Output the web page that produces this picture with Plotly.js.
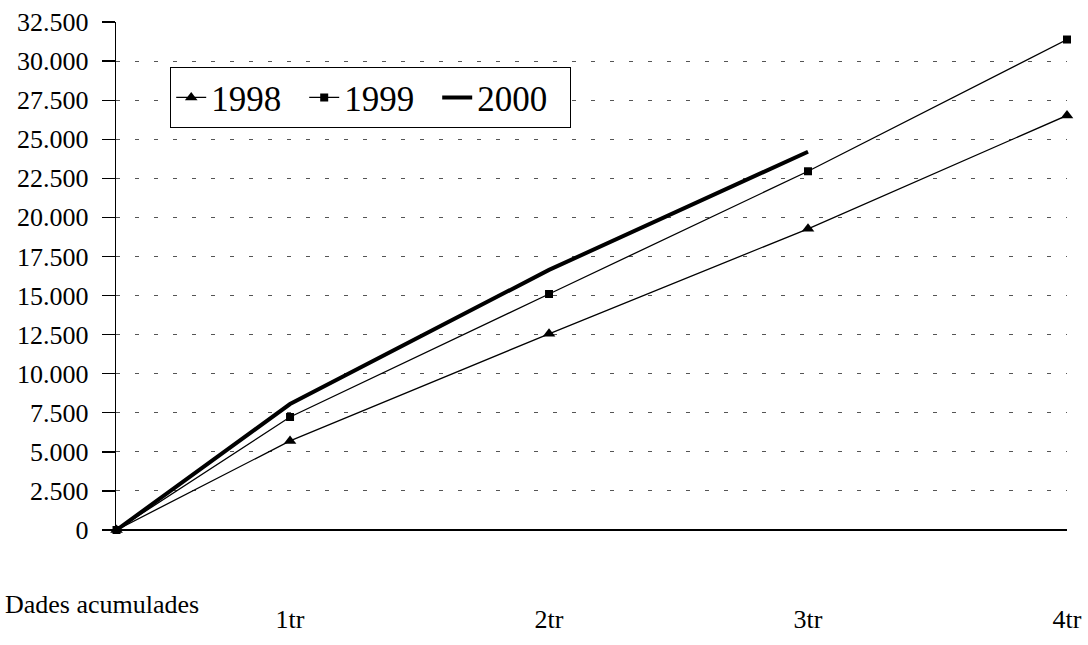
<!DOCTYPE html>
<html>
<head>
<meta charset="utf-8">
<script src="https://cdn.plot.ly/plotly-3.0.1.min.js"></script>
<style>html,body{margin:0;padding:0;background:#fff;}#chart{width:1088px;height:645px;}</style>
</head>
<body>
<div id="chart"></div>
<script>
// Data (cumulative values per quarter)
const quarterPositions = [0.33, 1, 2, 3, 4];
const quarterTickValues = [1, 2, 3, 4];
const quarterTickLabels = ["1tr", "2tr", "3tr", "4tr"];
const values1998 = [0, 5700, 12550, 19270, 26520];
const values1999 = [0, 7230, 15100, 22950, 31380];
const values2000 = [0, 8060, 16640, 24200];
const yTickValues = [0, 2500, 5000, 7500, 10000, 12500, 15000, 17500, 20000, 22500, 25000, 27500, 30000, 32500];

const serif = "Liberation Serif";

const traces = [
  {
    x: quarterPositions, y: values1998, name: "1998", type: "scatter", mode: "lines+markers",
    line: {color: "#000", width: 1.3},
    marker: {symbol: "triangle-up", size: 11, color: "#000"},
    cliponaxis: false
  },
  {
    x: quarterPositions, y: values1999, name: "1999", type: "scatter", mode: "lines+markers",
    line: {color: "#000", width: 1.3},
    marker: {symbol: "square", size: 8, color: "#000"},
    cliponaxis: false
  },
  {
    x: quarterPositions.slice(0, values2000.length), y: values2000, name: "2000", type: "scatter", mode: "lines",
    line: {color: "#000", width: 4},
    cliponaxis: false
  }
];

const layout = {
  width: 1088, height: 645,
  margin: {l: 116, r: 21, t: 22, b: 115},
  paper_bgcolor: "#fff", plot_bgcolor: "#fff",
  separators: ",.",
  font: {family: serif, color: "#000", size: 26},
  showlegend: true,
  legend: {
    orientation: "h", x: 0.057, y: 0.911, xanchor: "left", yanchor: "top",
    bordercolor: "#000", borderwidth: 1, bgcolor: "#fff",
    font: {family: serif, size: 35, color: "#000"},
    itemwidth: 30, entrywidth: 88, entrywidthmode: "pixels"
  },
  xaxis: {
    range: [0.328, 4], showgrid: false, zeroline: false,
    showline: false,
    tickmode: "array", tickvals: quarterTickValues, ticktext: quarterTickLabels,
    ticks: "outside", ticklen: 66, tickcolor: "rgba(0,0,0,0)",
    tickfont: {family: serif, size: 26, color: "#000"},
    fixedrange: true
  },
  yaxis: {
    range: [0, 32500], tickmode: "array", tickvals: yTickValues,
    tickformat: ",d",
    showline: true, linecolor: "#000", linewidth: 1.3,
    ticks: "outside", ticklen: 13, tickcolor: "#000", tickwidth: 1.3,
    ticklabelstandoff: 8,
    showgrid: true, gridcolor: "#555", gridwidth: 1, griddash: "4px,15px",
    zeroline: true, zerolinecolor: "#000", zerolinewidth: 1.3,
    tickfont: {family: serif, size: 26, color: "#000"},
    fixedrange: true
  },
  annotations: [
    {
      text: "Dades acumulades", xref: "paper", yref: "paper",
      x: -0.1188, y: -0.1457, xanchor: "left", yanchor: "middle",
      showarrow: false, font: {family: serif, size: 26, color: "#000"}
    }
  ]
};

Plotly.newPlot("chart", traces, layout, {displayModeBar: false, staticPlot: true});
</script>
</body>
</html>
